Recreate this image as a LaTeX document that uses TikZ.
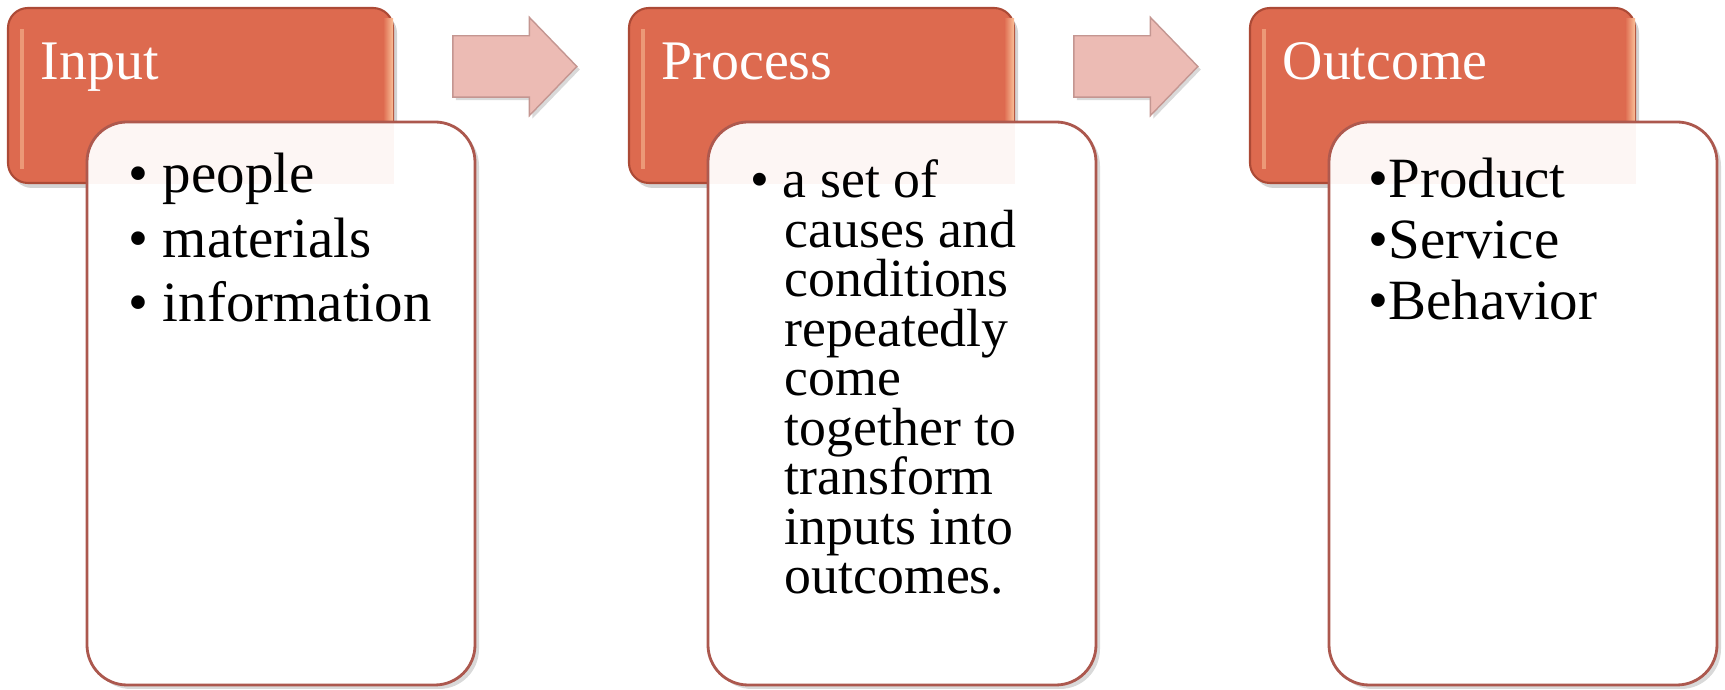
\documentclass[tikz,border=0pt]{standalone}
\usepackage{fontspec}
\setmainfont{Liberation Serif}
\usetikzlibrary{shapes.arrows,shadows}

\definecolor{hdrfill}{RGB}{221,106,79}
\definecolor{hdrlight}{RGB}{250,192,152}
\definecolor{hdrdark}{RGB}{172,74,54}
\definecolor{cardline}{RGB}{172,88,78}
\definecolor{arrfill}{RGB}{236,187,180}
\definecolor{arrline}{RGB}{196,150,145}

\tikzset{
  header/.style={draw=hdrdark, line width=0.6pt, fill=hdrfill, rounded corners=0.2cm,
    minimum width=3.85cm, minimum height=1.75cm,
    drop shadow={opacity=0.35, shadow xshift=0.04cm, shadow yshift=-0.05cm}},
  card/.style={draw=cardline, line width=0.8pt, fill=white,
    rounded corners=0.4cm, minimum width=3.88cm, minimum height=5.63cm,
    drop shadow={opacity=0.3, shadow xshift=0.04cm, shadow yshift=-0.04cm}},
  flow/.style={single arrow, draw=arrline, fill=arrfill,
    inner xsep=0pt, inner ysep=0.3cm, minimum height=1.24cm,
    single arrow head extend=0.185cm, single arrow tip angle=92,
    drop shadow={opacity=0.3, shadow xshift=0.03cm, shadow yshift=-0.03cm}},
  title/.style={anchor=base west, inner sep=0pt, text=white,
    font=\fontsize{15.9}{19}\selectfont},
  item/.style={anchor=base west, inner sep=0pt, font=\fontsize{16.2}{19}\selectfont},
  smallitem/.style={item, font=\fontsize{15.3}{18}\selectfont}
}

\begin{document}
\begin{tikzpicture}
\useasboundingbox (0,0) rectangle (17.25,6.9);
%
% the three panels: red header, white card in front
\foreach \n/\x/\hd in {1/0/Input, 2/6.21/Process, 3/12.42/Outcome} {
  \node[header] (h\n) at (2.005+\x,5.945) {};
  \shade[left color=hdrfill, right color=hdrlight] ([xshift=-0.11cm,yshift=-0.12cm]h\n.north east)
    rectangle ([xshift=-0.01cm,yshift=0.12cm]h\n.south east);
  \draw[hdrlight, line width=1pt, opacity=0.55] ([xshift=0.15cm,yshift=-0.22cm]h\n.north west)
    -- ([xshift=0.15cm,yshift=0.15cm]h\n.south west);
  \node[title] (t\n) at (0.40+\x,6.10) {\hd};
  \node[card] (c\n) at (2.81+\x,2.865) {};
  % faint tint where the header sits behind the card
  \begin{scope}
    \clip[rounded corners=0.4cm] (c\n.south west) rectangle (c\n.north east);
    \fill[hdrfill, opacity=0.06] (c\n.north west) rectangle (h\n.south east);
  \end{scope}
}
%
% arrows between the panels
\node[flow] (a1) at (5.00,6.235) {};
\node[flow] (a2) at (11.21,6.235) {};
%
% input
\foreach \w [count=\i] in {people, materials, information}
  \node[item] (p\i) at (1.28,{4.97-0.645*(\i-1)}) {\textbullet\ \w};
%
% process
\node[smallitem] (q1) at (7.50,4.92) {\textbullet\ a set of};
\foreach \w [count=\i from 2] in {causes and, conditions, repeatedly, come, together to, transform, inputs into, outcomes.}
  \node[smallitem] (q\i) at (7.84,{4.92-0.495*(\i-1)}) {\w};
%
% outcome
\foreach \w [count=\i] in {Product, Service, Behavior}
  \node[item] (o\i) at (13.68,{4.92-0.61*(\i-1)}) {\textbullet\w};
\end{tikzpicture}
\end{document}
